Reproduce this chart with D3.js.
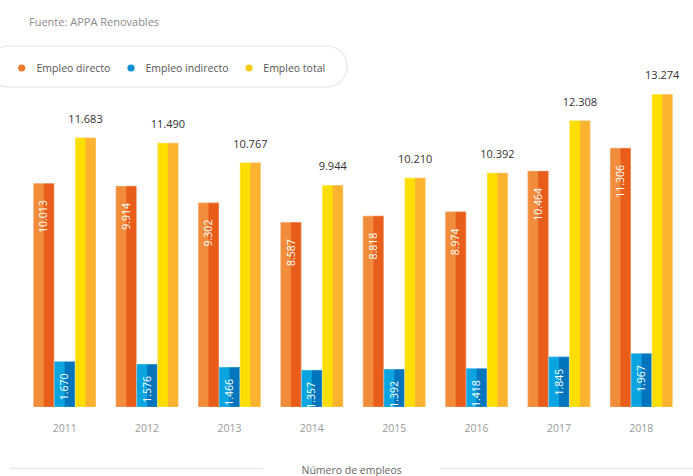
<!DOCTYPE html>
<html>
<head>
<meta charset="utf-8">
<script src="https://cdn.jsdelivr.net/npm/d3@7"></script>
<style>
  html, body { margin: 0; padding: 0; background: #fff; }
  svg { display: block; font-family: "Open Sans", "Noto Sans", sans-serif; }
</style>
</head>
<body>
<svg id="chart" width="693" height="476"></svg>
<script>
const years = ["2011", "2012", "2013", "2014", "2015", "2016", "2017", "2018"];
const seriesNames = ["Empleo directo", "Empleo indirecto", "Empleo total"];
const directo = [10013, 9914, 9302, 8587, 8818, 8974, 10464, 11306];
const indirecto = [1670, 1576, 1466, 1357, 1392, 1418, 1845, 1967];
const total = [11683, 11490, 10767, 9944, 10210, 10392, 12308, 13274];
const seriesKeys = ["directo", "indirecto", "total"];
const lightColors = ["#F18D3A", "#0AA5E0", "#FEDD00"];
const darkColors = ["#E95D1B", "#0075BD", "#FBB22E"];
const dotColors = ["#EE7A2E", "#0A8FD2", "#FDCB10"];

const fmt = v => d3.format(",")(v).replace(/,/g, ".");

const data = years.map((y, i) => ({
  year: y,
  values: [
    { key: "directo", v: directo[i] },
    { key: "indirecto", v: indirecto[i] },
    { key: "total", v: total[i] }
  ]
}));

const svg = d3.select("#chart");
const baseline = 407;

const x0 = d3.scaleBand().domain(years).range([33.3, 672.7]).paddingInner(0.239).paddingOuter(0);
const x1 = d3.scaleBand().domain(seriesKeys).range([0, x0.bandwidth()]).padding(0);
// The source infographic draws the large series against a truncated base, the small one from zero
const yMain = d3.scaleLinear().domain([1815, 13244]).range([baseline, 95]);
const ySmall = d3.scaleLinear().domain([0, 11429]).range([baseline, 95]);
const yFor = k => (k === "indirecto" ? ySmall : yMain);

// Source
svg.append("text").attr("x", 29).attr("y", 26)
  .attr("font-size", 11).attr("fill", "#8a8a8a").text("Fuente: APPA Renovables");

// Legend box
svg.append("rect").attr("x", -12).attr("y", 46).attr("width", 359).attr("height", 41)
  .attr("rx", 20).attr("fill", "none").attr("stroke", "#e6e6e0").attr("stroke-width", 1.2);

const legendPos = [{dx: 21.7, tx: 36.5}, {dx: 131, tx: 145.5}, {dx: 249, tx: 263.3}];
seriesNames.forEach((n, i) => {
  svg.append("circle").attr("cx", legendPos[i].dx).attr("cy", 68).attr("r", 3.6).attr("fill", dotColors[i]);
  svg.append("text").attr("x", legendPos[i].tx).attr("y", 68).attr("dy", "0.35em")
    .attr("font-size", 10.5).attr("fill", "#555").text(n);
});

// Bars
const groups = svg.append("g").selectAll("g").data(data).join("g")
  .attr("transform", d => `translate(${x0(d.year)},0)`);

groups.each(function(d) {
  const g = d3.select(this);
  d.values.forEach((s, i) => {
    const bx = x1(s.key), bw = x1.bandwidth();
    const top = yFor(s.key)(s.v), h = baseline - top;
    g.append("rect").attr("x", bx).attr("y", top).attr("width", bw / 2 + 0.5).attr("height", h)
      .attr("fill", lightColors[i]);
    g.append("rect").attr("x", bx + bw / 2).attr("y", top).attr("width", bw / 2).attr("height", h)
      .attr("fill", darkColors[i]);
    g.append("rect").attr("x", bx + 0.3).attr("y", top + 0.3).attr("width", bw - 0.6).attr("height", h - 0.3)
      .attr("fill", "none").attr("stroke", "#fff").attr("stroke-opacity", 0.35).attr("stroke-width", 0.6);
    const cx = bx + bw / 2;
    if (s.key === "total") {
      g.append("text").attr("x", cx).attr("y", top - 15)
        .attr("text-anchor", "middle").attr("font-size", 11).attr("fill", "#333")
        .text(fmt(s.v));
    } else {
      const off = s.key === "directo" ? 17 : 12;
      g.append("text")
        .attr("transform", `translate(${cx},${top + off}) rotate(-90)`)
        .attr("text-anchor", "end").attr("dy", "0.35em")
        .attr("font-size", 10.5).attr("fill", "#fff")
        .text(fmt(s.v));
    }
  });
});

// X axis labels
svg.append("g").selectAll("text").data(years).join("text")
  .attr("x", d => x0(d) + x0.bandwidth() / 2).attr("y", 428).attr("dy", "0.35em")
  .attr("text-anchor", "middle").attr("font-size", 10.5).attr("fill", "#9a9a9a")
  .text(d => d);

// Bottom title and lines
svg.append("line").attr("x1", 10).attr("x2", 263).attr("y1", 468.5).attr("y2", 468.5)
  .attr("stroke", "#e4ece4").attr("stroke-width", 1.5);
svg.append("line").attr("x1", 440).attr("x2", 693).attr("y1", 468.5).attr("y2", 468.5)
  .attr("stroke", "#e4ece4").attr("stroke-width", 1.5);
svg.append("text").attr("x", 301.5).attr("y", 470).attr("dy", "0.35em")
  .attr("font-size", 10.5).attr("fill", "#666").text("Número de empleos");
</script>
</body>
</html>
